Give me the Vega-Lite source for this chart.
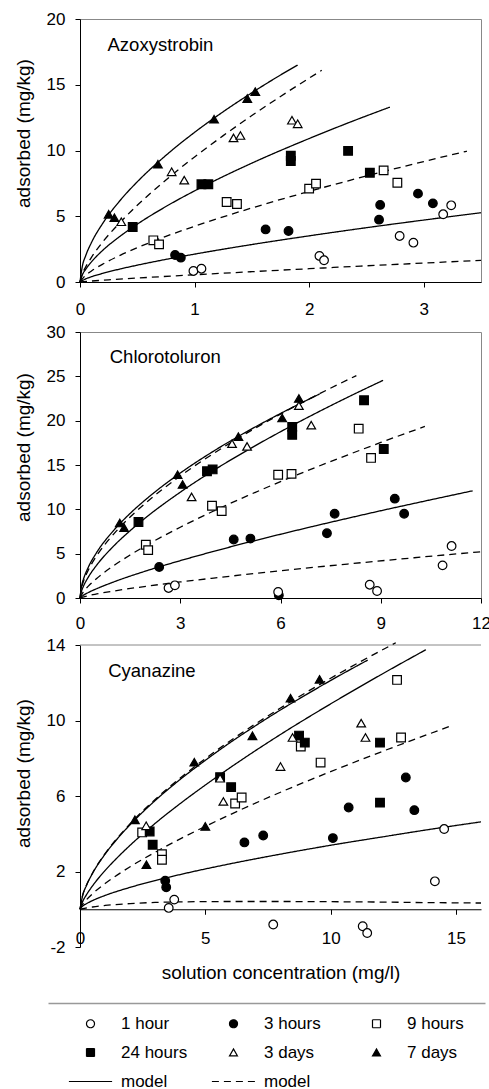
{
  "$schema": "https://vega.github.io/schema/vega-lite/v6.json",
  "background": "white",
  "padding": {"left": 13, "top": 9, "right": 5, "bottom": 0},
  "spacing": 4,
  "config": {
    "font": "Liberation Sans",
    "view": {"stroke": null},
    "axis": {"grid": false, "domainColor": "black", "tickColor": "black", "labelColor": "black", "titleColor": "black", "labelFont": "Liberation Sans", "titleFont": "Liberation Sans", "labelFontSize": 17, "titleFontSize": 19, "titleFontWeight": "normal", "tickSize": 5, "labelFlush": false, "labelOverlap": false}
  },
  "datasets": {
    "pts": [
      {"p":1,"series":"1 hour","x":0.99,"y":0.84},{"p":1,"series":"1 hour","x":1.06,"y":1.01},{"p":1,"series":"1 hour","x":2.09,"y":1.98},{"p":1,"series":"1 hour","x":2.13,"y":1.65},{"p":1,"series":"1 hour","x":2.79,"y":3.5},{"p":1,"series":"1 hour","x":2.91,"y":2.99},{"p":1,"series":"1 hour","x":3.17,"y":5.15},{"p":1,"series":"1 hour","x":3.24,"y":5.83},
      {"p":1,"series":"3 hours","x":0.83,"y":2.05},{"p":1,"series":"3 hours","x":0.88,"y":1.85},{"p":1,"series":"3 hours","x":1.62,"y":4.0},{"p":1,"series":"3 hours","x":1.82,"y":3.88},{"p":1,"series":"3 hours","x":2.62,"y":5.86},{"p":1,"series":"3 hours","x":2.61,"y":4.74},{"p":1,"series":"3 hours","x":2.95,"y":6.72},{"p":1,"series":"3 hours","x":3.08,"y":5.98},
      {"p":1,"series":"9 hours","x":0.64,"y":3.17},{"p":1,"series":"9 hours","x":0.69,"y":2.86},{"p":1,"series":"9 hours","x":1.28,"y":6.08},{"p":1,"series":"9 hours","x":1.37,"y":5.93},{"p":1,"series":"9 hours","x":2.0,"y":7.1},{"p":1,"series":"9 hours","x":2.06,"y":7.48},{"p":1,"series":"9 hours","x":2.65,"y":8.49},{"p":1,"series":"9 hours","x":2.77,"y":7.55},
      {"p":1,"series":"24 hours","x":0.46,"y":4.18},{"p":1,"series":"24 hours","x":1.06,"y":7.43},{"p":1,"series":"24 hours","x":1.12,"y":7.43},{"p":1,"series":"24 hours","x":1.84,"y":9.6},{"p":1,"series":"24 hours","x":1.84,"y":9.2},{"p":1,"series":"24 hours","x":2.34,"y":9.97},{"p":1,"series":"24 hours","x":2.53,"y":8.31},
      {"p":1,"series":"3 days","x":0.36,"y":4.58},{"p":1,"series":"3 days","x":0.8,"y":8.38},{"p":1,"series":"3 days","x":0.91,"y":7.75},{"p":1,"series":"3 days","x":1.34,"y":10.96},{"p":1,"series":"3 days","x":1.4,"y":11.14},{"p":1,"series":"3 days","x":1.85,"y":12.3},{"p":1,"series":"3 days","x":1.9,"y":12.03},
      {"p":1,"series":"7 days","x":0.25,"y":5.15},{"p":1,"series":"7 days","x":0.3,"y":4.89},{"p":1,"series":"7 days","x":0.68,"y":8.96},{"p":1,"series":"7 days","x":1.17,"y":12.38},{"p":1,"series":"7 days","x":1.46,"y":13.95},{"p":1,"series":"7 days","x":1.53,"y":14.48},

      {"p":2,"series":"1 hour","x":2.65,"y":1.13},{"p":2,"series":"1 hour","x":2.84,"y":1.43},{"p":2,"series":"3 hours","x":5.95,"y":0.3},{"p":2,"series":"1 hour","x":5.93,"y":0.68},{"p":2,"series":"1 hour","x":8.67,"y":1.5},{"p":2,"series":"1 hour","x":8.89,"y":0.79},{"p":2,"series":"1 hour","x":10.85,"y":3.68},{"p":2,"series":"1 hour","x":11.12,"y":5.86},
      {"p":2,"series":"3 hours","x":2.37,"y":3.5},{"p":2,"series":"3 hours","x":4.6,"y":6.6},{"p":2,"series":"3 hours","x":5.1,"y":6.7},{"p":2,"series":"3 hours","x":7.39,"y":7.3},{"p":2,"series":"3 hours","x":7.62,"y":9.5},{"p":2,"series":"3 hours","x":9.42,"y":11.2},{"p":2,"series":"3 hours","x":9.7,"y":9.5},
      {"p":2,"series":"9 hours","x":1.97,"y":6.0},{"p":2,"series":"9 hours","x":2.04,"y":5.4},{"p":2,"series":"9 hours","x":3.95,"y":10.4},{"p":2,"series":"9 hours","x":4.24,"y":9.8},{"p":2,"series":"9 hours","x":5.93,"y":13.9},{"p":2,"series":"9 hours","x":6.33,"y":14.0},{"p":2,"series":"9 hours","x":8.34,"y":19.1},{"p":2,"series":"9 hours","x":8.71,"y":15.8},
      {"p":2,"series":"24 hours","x":1.75,"y":8.57},{"p":2,"series":"24 hours","x":3.8,"y":14.3},{"p":2,"series":"24 hours","x":3.97,"y":14.5},{"p":2,"series":"24 hours","x":6.35,"y":19.3},{"p":2,"series":"24 hours","x":6.35,"y":18.4},{"p":2,"series":"24 hours","x":8.5,"y":22.3},{"p":2,"series":"24 hours","x":9.09,"y":16.8},
      {"p":2,"series":"3 days","x":3.34,"y":11.4},{"p":2,"series":"3 days","x":4.55,"y":17.4},{"p":2,"series":"3 days","x":5.0,"y":17.1},{"p":2,"series":"3 days","x":6.55,"y":21.7},{"p":2,"series":"3 days","x":6.92,"y":19.5},
      {"p":2,"series":"7 days","x":1.19,"y":8.46},{"p":2,"series":"7 days","x":1.32,"y":7.93},{"p":2,"series":"7 days","x":2.92,"y":13.9},{"p":2,"series":"7 days","x":3.07,"y":12.8},{"p":2,"series":"7 days","x":4.74,"y":18.2},{"p":2,"series":"7 days","x":6.05,"y":20.3},{"p":2,"series":"7 days","x":6.55,"y":22.5},

      {"p":3,"series":"1 hour","x":3.54,"y":0.07},{"p":3,"series":"1 hour","x":3.76,"y":0.51},{"p":3,"series":"1 hour","x":7.71,"y":-0.81},{"p":3,"series":"1 hour","x":11.28,"y":-0.9},{"p":3,"series":"1 hour","x":11.46,"y":-1.26},{"p":3,"series":"1 hour","x":14.16,"y":1.48},{"p":3,"series":"1 hour","x":14.53,"y":4.25},
      {"p":3,"series":"3 hours","x":3.4,"y":1.51},{"p":3,"series":"3 hours","x":3.44,"y":1.16},{"p":3,"series":"3 hours","x":6.56,"y":3.54},{"p":3,"series":"3 hours","x":7.31,"y":3.91},{"p":3,"series":"3 hours","x":10.09,"y":3.77},{"p":3,"series":"3 hours","x":10.72,"y":5.39},{"p":3,"series":"3 hours","x":13.0,"y":6.98},{"p":3,"series":"3 hours","x":13.34,"y":5.25},
      {"p":3,"series":"9 hours","x":2.48,"y":4.07},{"p":3,"series":"9 hours","x":3.27,"y":2.92},{"p":3,"series":"9 hours","x":3.27,"y":2.62},{"p":3,"series":"9 hours","x":6.19,"y":5.6},{"p":3,"series":"9 hours","x":6.45,"y":5.92},{"p":3,"series":"9 hours","x":8.81,"y":8.62},{"p":3,"series":"9 hours","x":9.6,"y":7.77},{"p":3,"series":"9 hours","x":12.65,"y":12.15},{"p":3,"series":"9 hours","x":12.81,"y":9.1},
      {"p":3,"series":"24 hours","x":2.78,"y":4.12},{"p":3,"series":"24 hours","x":2.9,"y":3.42},{"p":3,"series":"24 hours","x":5.59,"y":7.0},{"p":3,"series":"24 hours","x":6.03,"y":6.47},{"p":3,"series":"24 hours","x":8.74,"y":9.2},{"p":3,"series":"24 hours","x":8.97,"y":8.83},{"p":3,"series":"24 hours","x":11.97,"y":8.83},{"p":3,"series":"24 hours","x":11.97,"y":5.65},
      {"p":3,"series":"3 days","x":2.64,"y":4.42},{"p":3,"series":"3 days","x":5.59,"y":6.94},{"p":3,"series":"3 days","x":5.72,"y":5.71},{"p":3,"series":"3 days","x":8.0,"y":7.56},{"p":3,"series":"3 days","x":8.48,"y":9.1},{"p":3,"series":"3 days","x":11.22,"y":9.86},{"p":3,"series":"3 days","x":11.39,"y":9.1},
      {"p":3,"series":"7 days","x":2.19,"y":4.74},{"p":3,"series":"7 days","x":2.65,"y":2.36},{"p":3,"series":"7 days","x":4.56,"y":7.79},{"p":3,"series":"7 days","x":5.0,"y":4.39},{"p":3,"series":"7 days","x":6.88,"y":9.19},{"p":3,"series":"7 days","x":8.4,"y":11.18},{"p":3,"series":"7 days","x":9.56,"y":12.18}
    ],
    "curves": [
      {"p":1,"c":"7d","kind":"model solid","x":0,"y":0},{"p":1,"c":"7d","kind":"model solid","x":0.02,"y":1.18},{"p":1,"c":"7d","kind":"model solid","x":0.05,"y":2.01},{"p":1,"c":"7d","kind":"model solid","x":0.1,"y":3.0},{"p":1,"c":"7d","kind":"model solid","x":0.2,"y":4.48},{"p":1,"c":"7d","kind":"model solid","x":0.35,"y":6.2},{"p":1,"c":"7d","kind":"model solid","x":0.5,"y":7.62},{"p":1,"c":"7d","kind":"model solid","x":0.75,"y":9.63},{"p":1,"c":"7d","kind":"model solid","x":1.0,"y":11.38},{"p":1,"c":"7d","kind":"model solid","x":1.25,"y":12.95},{"p":1,"c":"7d","kind":"model solid","x":1.5,"y":14.39},{"p":1,"c":"7d","kind":"model solid","x":1.75,"y":15.74},{"p":1,"c":"7d","kind":"model solid","x":1.9,"y":16.5},
      {"p":1,"c":"3d","kind":"model dashed","x":0,"y":0},{"p":1,"c":"3d","kind":"model dashed","x":0.02,"y":0.6},{"p":1,"c":"3d","kind":"model dashed","x":0.05,"y":1.15},{"p":1,"c":"3d","kind":"model dashed","x":0.1,"y":1.87},{"p":1,"c":"3d","kind":"model dashed","x":0.2,"y":3.06},{"p":1,"c":"3d","kind":"model dashed","x":0.35,"y":4.53},{"p":1,"c":"3d","kind":"model dashed","x":0.5,"y":5.83},{"p":1,"c":"3d","kind":"model dashed","x":0.75,"y":7.76},{"p":1,"c":"3d","kind":"model dashed","x":1.0,"y":9.51},{"p":1,"c":"3d","kind":"model dashed","x":1.25,"y":11.13},{"p":1,"c":"3d","kind":"model dashed","x":1.5,"y":12.66},{"p":1,"c":"3d","kind":"model dashed","x":1.75,"y":14.11},{"p":1,"c":"3d","kind":"model dashed","x":2.11,"y":16.1},
      {"p":1,"c":"24h","kind":"model solid","x":0,"y":0},{"p":1,"c":"24h","kind":"model solid","x":0.02,"y":0.53},{"p":1,"c":"24h","kind":"model solid","x":0.05,"y":0.97},{"p":1,"c":"24h","kind":"model solid","x":0.1,"y":1.53},{"p":1,"c":"24h","kind":"model solid","x":0.2,"y":2.42},{"p":1,"c":"24h","kind":"model solid","x":0.35,"y":3.48},{"p":1,"c":"24h","kind":"model solid","x":0.5,"y":4.4},{"p":1,"c":"24h","kind":"model solid","x":0.75,"y":5.74},{"p":1,"c":"24h","kind":"model solid","x":1.0,"y":6.93},{"p":1,"c":"24h","kind":"model solid","x":1.25,"y":8.02},{"p":1,"c":"24h","kind":"model solid","x":1.5,"y":9.04},{"p":1,"c":"24h","kind":"model solid","x":2.0,"y":10.91},{"p":1,"c":"24h","kind":"model solid","x":2.4,"y":12.3},{"p":1,"c":"24h","kind":"model solid","x":2.705,"y":13.3},
      {"p":1,"c":"9h","kind":"model dashed","x":0,"y":0},{"p":1,"c":"9h","kind":"model dashed","x":0.05,"y":0.52},{"p":1,"c":"9h","kind":"model dashed","x":0.1,"y":0.84},{"p":1,"c":"9h","kind":"model dashed","x":0.2,"y":1.37},{"p":1,"c":"9h","kind":"model dashed","x":0.35,"y":2.03},{"p":1,"c":"9h","kind":"model dashed","x":0.5,"y":2.61},{"p":1,"c":"9h","kind":"model dashed","x":0.75,"y":3.47},{"p":1,"c":"9h","kind":"model dashed","x":1.0,"y":4.24},{"p":1,"c":"9h","kind":"model dashed","x":1.5,"y":5.63},{"p":1,"c":"9h","kind":"model dashed","x":2.0,"y":6.89},{"p":1,"c":"9h","kind":"model dashed","x":2.5,"y":8.06},{"p":1,"c":"9h","kind":"model dashed","x":3.0,"y":9.16},{"p":1,"c":"9h","kind":"model dashed","x":3.377,"y":9.95},
      {"p":1,"c":"3h","kind":"model solid","x":0,"y":0},{"p":1,"c":"3h","kind":"model solid","x":0.05,"y":0.24},{"p":1,"c":"3h","kind":"model solid","x":0.1,"y":0.4},{"p":1,"c":"3h","kind":"model solid","x":0.2,"y":0.66},{"p":1,"c":"3h","kind":"model solid","x":0.35,"y":0.99},{"p":1,"c":"3h","kind":"model solid","x":0.5,"y":1.28},{"p":1,"c":"3h","kind":"model solid","x":0.75,"y":1.72},{"p":1,"c":"3h","kind":"model solid","x":1.0,"y":2.12},{"p":1,"c":"3h","kind":"model solid","x":1.5,"y":2.85},{"p":1,"c":"3h","kind":"model solid","x":2.0,"y":3.51},{"p":1,"c":"3h","kind":"model solid","x":2.5,"y":4.13},{"p":1,"c":"3h","kind":"model solid","x":3.0,"y":4.71},{"p":1,"c":"3h","kind":"model solid","x":3.5,"y":5.27},
      {"p":1,"c":"1h","kind":"model dashed","x":0,"y":0},{"p":1,"c":"1h","kind":"model dashed","x":0.1,"y":0.073},{"p":1,"c":"1h","kind":"model dashed","x":0.25,"y":0.163},{"p":1,"c":"1h","kind":"model dashed","x":0.5,"y":0.3},{"p":1,"c":"1h","kind":"model dashed","x":1.0,"y":0.55},{"p":1,"c":"1h","kind":"model dashed","x":1.5,"y":0.785},{"p":1,"c":"1h","kind":"model dashed","x":2.0,"y":1.01},{"p":1,"c":"1h","kind":"model dashed","x":2.5,"y":1.23},{"p":1,"c":"1h","kind":"model dashed","x":3.0,"y":1.44},{"p":1,"c":"1h","kind":"model dashed","x":3.5,"y":1.65},

      {"p":2,"c":"7d","kind":"model solid","x":0,"y":0},{"p":2,"c":"7d","kind":"model solid","x":0.05,"y":1.4},{"p":2,"c":"7d","kind":"model solid","x":0.1,"y":2.08},{"p":2,"c":"7d","kind":"model solid","x":0.25,"y":3.48},{"p":2,"c":"7d","kind":"model solid","x":0.5,"y":5.14},{"p":2,"c":"7d","kind":"model solid","x":1.0,"y":7.59},{"p":2,"c":"7d","kind":"model solid","x":1.5,"y":9.54},{"p":2,"c":"7d","kind":"model solid","x":2.0,"y":11.21},{"p":2,"c":"7d","kind":"model solid","x":3.0,"y":14.09},{"p":2,"c":"7d","kind":"model solid","x":4.0,"y":16.57},{"p":2,"c":"7d","kind":"model solid","x":5.0,"y":18.78},{"p":2,"c":"7d","kind":"model solid","x":6.0,"y":20.81},{"p":2,"c":"7d","kind":"model solid","x":7.17,"y":23.01},
      {"p":2,"c":"3d","kind":"model dashed","x":0,"y":0},{"p":2,"c":"3d","kind":"model dashed","x":0.05,"y":1.22},{"p":2,"c":"3d","kind":"model dashed","x":0.1,"y":1.84},{"p":2,"c":"3d","kind":"model dashed","x":0.25,"y":3.16},{"p":2,"c":"3d","kind":"model dashed","x":0.5,"y":4.76},{"p":2,"c":"3d","kind":"model dashed","x":1.0,"y":7.18},{"p":2,"c":"3d","kind":"model dashed","x":1.5,"y":9.13},{"p":2,"c":"3d","kind":"model dashed","x":2.0,"y":10.82},{"p":2,"c":"3d","kind":"model dashed","x":3.0,"y":13.76},{"p":2,"c":"3d","kind":"model dashed","x":4.0,"y":16.31},{"p":2,"c":"3d","kind":"model dashed","x":5.0,"y":18.62},{"p":2,"c":"3d","kind":"model dashed","x":6.0,"y":20.74},{"p":2,"c":"3d","kind":"model dashed","x":7.0,"y":22.72},{"p":2,"c":"3d","kind":"model dashed","x":8.27,"y":25.08},
      {"p":2,"c":"24h","kind":"model solid","x":0,"y":0},{"p":2,"c":"24h","kind":"model solid","x":0.05,"y":0.83},{"p":2,"c":"24h","kind":"model solid","x":0.1,"y":1.3},{"p":2,"c":"24h","kind":"model solid","x":0.25,"y":2.36},{"p":2,"c":"24h","kind":"model solid","x":0.5,"y":3.71},{"p":2,"c":"24h","kind":"model solid","x":1.0,"y":5.83},{"p":2,"c":"24h","kind":"model solid","x":1.5,"y":7.59},{"p":2,"c":"24h","kind":"model solid","x":2.0,"y":9.16},{"p":2,"c":"24h","kind":"model solid","x":3.0,"y":11.93},{"p":2,"c":"24h","kind":"model solid","x":4.0,"y":14.4},{"p":2,"c":"24h","kind":"model solid","x":5.0,"y":16.65},{"p":2,"c":"24h","kind":"model solid","x":6.0,"y":18.75},{"p":2,"c":"24h","kind":"model solid","x":7.0,"y":20.73},{"p":2,"c":"24h","kind":"model solid","x":8.0,"y":22.62},{"p":2,"c":"24h","kind":"model solid","x":9.07,"y":24.55},
      {"p":2,"c":"9h","kind":"model dashed","x":0,"y":0},{"p":2,"c":"9h","kind":"model dashed","x":0.1,"y":0.7},{"p":2,"c":"9h","kind":"model dashed","x":0.25,"y":1.34},{"p":2,"c":"9h","kind":"model dashed","x":0.5,"y":2.21},{"p":2,"c":"9h","kind":"model dashed","x":1.0,"y":3.63},{"p":2,"c":"9h","kind":"model dashed","x":1.5,"y":4.85},{"p":2,"c":"9h","kind":"model dashed","x":2.0,"y":5.97},{"p":2,"c":"9h","kind":"model dashed","x":3.0,"y":7.98},{"p":2,"c":"9h","kind":"model dashed","x":4.0,"y":9.81},{"p":2,"c":"9h","kind":"model dashed","x":5.0,"y":11.51},{"p":2,"c":"9h","kind":"model dashed","x":6.0,"y":13.12},{"p":2,"c":"9h","kind":"model dashed","x":7.0,"y":14.65},{"p":2,"c":"9h","kind":"model dashed","x":8.0,"y":16.12},{"p":2,"c":"9h","kind":"model dashed","x":9.0,"y":17.54},{"p":2,"c":"9h","kind":"model dashed","x":10.32,"y":19.35},
      {"p":2,"c":"3h","kind":"model solid","x":0,"y":0},{"p":2,"c":"3h","kind":"model solid","x":0.1,"y":0.3},{"p":2,"c":"3h","kind":"model solid","x":0.25,"y":0.62},{"p":2,"c":"3h","kind":"model solid","x":0.5,"y":1.05},{"p":2,"c":"3h","kind":"model solid","x":1.0,"y":1.8},{"p":2,"c":"3h","kind":"model solid","x":2.0,"y":3.08},{"p":2,"c":"3h","kind":"model solid","x":3.0,"y":4.21},{"p":2,"c":"3h","kind":"model solid","x":4.0,"y":5.26},{"p":2,"c":"3h","kind":"model solid","x":5.0,"y":6.25},{"p":2,"c":"3h","kind":"model solid","x":6.0,"y":7.19},{"p":2,"c":"3h","kind":"model solid","x":7.0,"y":8.1},{"p":2,"c":"3h","kind":"model solid","x":8.0,"y":8.98},{"p":2,"c":"3h","kind":"model solid","x":9.0,"y":9.84},{"p":2,"c":"3h","kind":"model solid","x":10.0,"y":10.67},{"p":2,"c":"3h","kind":"model solid","x":11.75,"y":12.09},
      {"p":2,"c":"1h","kind":"model dashed","x":0,"y":0},{"p":2,"c":"1h","kind":"model dashed","x":0.25,"y":0.27},{"p":2,"c":"1h","kind":"model dashed","x":0.5,"y":0.46},{"p":2,"c":"1h","kind":"model dashed","x":1.0,"y":0.78},{"p":2,"c":"1h","kind":"model dashed","x":2.0,"y":1.33},{"p":2,"c":"1h","kind":"model dashed","x":3.0,"y":1.81},{"p":2,"c":"1h","kind":"model dashed","x":4.0,"y":2.25},{"p":2,"c":"1h","kind":"model dashed","x":6.0,"y":3.07},{"p":2,"c":"1h","kind":"model dashed","x":8.0,"y":3.83},{"p":2,"c":"1h","kind":"model dashed","x":10.0,"y":4.54},{"p":2,"c":"1h","kind":"model dashed","x":12.0,"y":5.22},

      {"p":3,"c":"7d","kind":"model solid","x":0,"y":0},{"p":3,"c":"7d","kind":"model solid","x":0.1,"y":0.7},{"p":3,"c":"7d","kind":"model solid","x":0.25,"y":1.24},{"p":3,"c":"7d","kind":"model solid","x":0.5,"y":1.9},{"p":3,"c":"7d","kind":"model solid","x":1.0,"y":2.92},{"p":3,"c":"7d","kind":"model solid","x":1.5,"y":3.75},{"p":3,"c":"7d","kind":"model solid","x":2.0,"y":4.48},{"p":3,"c":"7d","kind":"model solid","x":3.0,"y":5.76},{"p":3,"c":"7d","kind":"model solid","x":4.0,"y":6.88},{"p":3,"c":"7d","kind":"model solid","x":5.0,"y":7.89},{"p":3,"c":"7d","kind":"model solid","x":6.0,"y":8.84},{"p":3,"c":"7d","kind":"model solid","x":7.0,"y":9.72},{"p":3,"c":"7d","kind":"model solid","x":8.0,"y":10.56},{"p":3,"c":"7d","kind":"model solid","x":9.0,"y":11.35},{"p":3,"c":"7d","kind":"model solid","x":10.0,"y":12.12},{"p":3,"c":"7d","kind":"model solid","x":11.48,"y":13.2},
      {"p":3,"c":"3d","kind":"model dashed","x":0,"y":0},{"p":3,"c":"3d","kind":"model dashed","x":0.1,"y":0.71},{"p":3,"c":"3d","kind":"model dashed","x":0.25,"y":1.25},{"p":3,"c":"3d","kind":"model dashed","x":0.5,"y":1.92},{"p":3,"c":"3d","kind":"model dashed","x":1.0,"y":2.95},{"p":3,"c":"3d","kind":"model dashed","x":1.5,"y":3.79},{"p":3,"c":"3d","kind":"model dashed","x":2.0,"y":4.53},{"p":3,"c":"3d","kind":"model dashed","x":3.0,"y":5.82},{"p":3,"c":"3d","kind":"model dashed","x":4.0,"y":6.95},{"p":3,"c":"3d","kind":"model dashed","x":5.0,"y":7.98},{"p":3,"c":"3d","kind":"model dashed","x":6.0,"y":8.93},{"p":3,"c":"3d","kind":"model dashed","x":7.0,"y":9.82},{"p":3,"c":"3d","kind":"model dashed","x":8.0,"y":10.66},{"p":3,"c":"3d","kind":"model dashed","x":9.0,"y":11.47},{"p":3,"c":"3d","kind":"model dashed","x":10.0,"y":12.24},{"p":3,"c":"3d","kind":"model dashed","x":11.0,"y":12.98},{"p":3,"c":"3d","kind":"model dashed","x":12.6,"y":14.12},
      {"p":3,"c":"24h","kind":"model solid","x":0,"y":0},{"p":3,"c":"24h","kind":"model solid","x":0.1,"y":0.39},{"p":3,"c":"24h","kind":"model solid","x":0.25,"y":0.75},{"p":3,"c":"24h","kind":"model solid","x":0.5,"y":1.24},{"p":3,"c":"24h","kind":"model solid","x":1.0,"y":2.05},{"p":3,"c":"24h","kind":"model solid","x":1.5,"y":2.75},{"p":3,"c":"24h","kind":"model solid","x":2.0,"y":3.39},{"p":3,"c":"24h","kind":"model solid","x":3.0,"y":4.55},{"p":3,"c":"24h","kind":"model solid","x":4.0,"y":5.6},{"p":3,"c":"24h","kind":"model solid","x":5.0,"y":6.58},{"p":3,"c":"24h","kind":"model solid","x":6.0,"y":7.51},{"p":3,"c":"24h","kind":"model solid","x":8.0,"y":9.26},{"p":3,"c":"24h","kind":"model solid","x":10.0,"y":10.88},{"p":3,"c":"24h","kind":"model solid","x":12.0,"y":12.42},{"p":3,"c":"24h","kind":"model solid","x":13.8,"y":13.75},
      {"p":3,"c":"9h","kind":"model dashed","x":0,"y":0},{"p":3,"c":"9h","kind":"model dashed","x":0.1,"y":0.25},{"p":3,"c":"9h","kind":"model dashed","x":0.25,"y":0.49},{"p":3,"c":"9h","kind":"model dashed","x":0.5,"y":0.82},{"p":3,"c":"9h","kind":"model dashed","x":1.0,"y":1.36},{"p":3,"c":"9h","kind":"model dashed","x":2.0,"y":2.25},{"p":3,"c":"9h","kind":"model dashed","x":3.0,"y":3.02},{"p":3,"c":"9h","kind":"model dashed","x":4.0,"y":3.73},{"p":3,"c":"9h","kind":"model dashed","x":5.0,"y":4.39},{"p":3,"c":"9h","kind":"model dashed","x":6.0,"y":5.02},{"p":3,"c":"9h","kind":"model dashed","x":8.0,"y":6.2},{"p":3,"c":"9h","kind":"model dashed","x":10.0,"y":7.29},{"p":3,"c":"9h","kind":"model dashed","x":12.0,"y":8.33},{"p":3,"c":"9h","kind":"model dashed","x":14.86,"y":9.74},
      {"p":3,"c":"3h","kind":"model solid","x":0,"y":0},{"p":3,"c":"3h","kind":"model solid","x":0.1,"y":0.16},{"p":3,"c":"3h","kind":"model solid","x":0.25,"y":0.29},{"p":3,"c":"3h","kind":"model solid","x":0.5,"y":0.46},{"p":3,"c":"3h","kind":"model solid","x":1.0,"y":0.73},{"p":3,"c":"3h","kind":"model solid","x":2.0,"y":1.16},{"p":3,"c":"3h","kind":"model solid","x":3.0,"y":1.52},{"p":3,"c":"3h","kind":"model solid","x":4.0,"y":1.84},{"p":3,"c":"3h","kind":"model solid","x":6.0,"y":2.41},{"p":3,"c":"3h","kind":"model solid","x":8.0,"y":2.92},{"p":3,"c":"3h","kind":"model solid","x":10.0,"y":3.39},{"p":3,"c":"3h","kind":"model solid","x":12.0,"y":3.82},{"p":3,"c":"3h","kind":"model solid","x":14.0,"y":4.24},{"p":3,"c":"3h","kind":"model solid","x":16.0,"y":4.63},
      {"p":3,"c":"1h","kind":"model dashed","x":0,"y":0},{"p":3,"c":"1h","kind":"model dashed","x":0.5,"y":0.12},{"p":3,"c":"1h","kind":"model dashed","x":1.0,"y":0.2},{"p":3,"c":"1h","kind":"model dashed","x":2.0,"y":0.3},{"p":3,"c":"1h","kind":"model dashed","x":3.0,"y":0.36},{"p":3,"c":"1h","kind":"model dashed","x":4.0,"y":0.39},{"p":3,"c":"1h","kind":"model dashed","x":6.0,"y":0.41},{"p":3,"c":"1h","kind":"model dashed","x":8.0,"y":0.41},{"p":3,"c":"1h","kind":"model dashed","x":10.0,"y":0.4},{"p":3,"c":"1h","kind":"model dashed","x":12.0,"y":0.38},{"p":3,"c":"1h","kind":"model dashed","x":14.0,"y":0.35},{"p":3,"c":"1h","kind":"model dashed","x":16.0,"y":0.33}
    ]
  },
  "vconcat": [
    {
      "width": 401, "height": 263,
      "view": {"stroke": "#888"},
      "layer": [
        {
          "data": {"name": "curves"},
          "transform": [{"filter": "datum.p === 1"}],
          "mark": {"type": "line", "color": "black", "strokeWidth": 1.3, "interpolate": "monotone", "clip": false},
          "encoding": {
            "x": {"field": "x", "type": "quantitative", "scale": {"domain": [0, 3.5], "nice": false}, "axis": {"title": null, "values": [0, 1, 2, 3], "format": "d", "labelPadding": 14}},
            "y": {"field": "y", "type": "quantitative", "scale": {"domain": [0, 20], "nice": false}, "axis": {"title": "adsorbed (mg/kg)", "values": [0, 5, 10, 15, 20], "labelPadding": 10, "titlePadding": 13, "titleY": 114}},
            "detail": {"field": "c", "type": "nominal"},
            "strokeDash": {"field": "kind", "type": "nominal",
              "scale": {"domain": ["1 hour", "3 hours", "9 hours", "24 hours", "3 days", "7 days", "model solid", "model dashed"], "range": [[1, 0], [1, 0], [1, 0], [1, 0], [1, 0], [1, 0], [1, 0], [7, 5]]},
              "legend": {"orient": "none", "legendX": 2, "legendY": 996, "direction": "horizontal", "columns": 3, "title": null, "symbolSize": 64, "symbolOffset": 0, "symbolStrokeColor": "black", "symbolStrokeWidth": 1.2, "symbolOpacity": 1, "labelFont": "Liberation Sans", "labelFontSize": 17, "labelColor": "black", "labelOffset": 22, "columnPadding": 21, "rowPadding": 11, "gridAlign": "all", "labelExpr": "indexof(datum.label, 'model') === 0 ? 'model' : datum.label"}}
          }
        },
        {
          "data": {"name": "pts"},
          "transform": [{"filter": "datum.p === 1"}],
          "mark": {"type": "point", "filled": true, "stroke": "black", "strokeWidth": 1.2, "opacity": 1, "size": 75},
          "encoding": {
            "x": {"field": "x", "type": "quantitative"},
            "y": {"field": "y", "type": "quantitative"},
            "shape": {"field": "series", "type": "nominal",
              "scale": {"domain": ["1 hour", "3 hours", "9 hours", "24 hours", "3 days", "7 days", "model solid", "model dashed"], "range": ["circle", "circle", "square", "square", "triangle-up", "triangle-up", "M -5.4 0 L 5.4 0", "M -5.4 0 L 5.4 0"]},
              "legend": {"orient": "none", "legendX": 2, "legendY": 996, "direction": "horizontal", "columns": 3, "title": null, "symbolSize": 64, "symbolOffset": 0, "symbolStrokeColor": "black", "symbolStrokeWidth": 1.2, "symbolOpacity": 1, "labelFont": "Liberation Sans", "labelFontSize": 17, "labelColor": "black", "labelOffset": 22, "columnPadding": 21, "rowPadding": 11, "gridAlign": "all", "labelExpr": "indexof(datum.label, 'model') === 0 ? 'model' : datum.label"}},
            "fill": {"field": "series", "type": "nominal",
              "scale": {"domain": ["1 hour", "3 hours", "9 hours", "24 hours", "3 days", "7 days", "model solid", "model dashed"], "range": ["white", "black", "white", "black", "white", "black", "white", "white"]},
              "legend": {"orient": "none", "legendX": 2, "legendY": 996, "direction": "horizontal", "columns": 3, "title": null, "symbolSize": 64, "symbolOffset": 0, "symbolStrokeColor": "black", "symbolStrokeWidth": 1.2, "symbolOpacity": 1, "labelFont": "Liberation Sans", "labelFontSize": 17, "labelColor": "black", "labelOffset": 22, "columnPadding": 21, "rowPadding": 11, "gridAlign": "all", "labelExpr": "indexof(datum.label, 'model') === 0 ? 'model' : datum.label"}},
            "stroke": {"field": "series", "type": "nominal",
              "scale": {"domain": ["1 hour", "3 hours", "9 hours", "24 hours", "3 days", "7 days", "model solid", "model dashed"], "range": ["black", "black", "black", "black", "black", "black", "black", "black"]},
              "legend": {"orient": "none", "legendX": 2, "legendY": 996, "direction": "horizontal", "columns": 3, "title": null, "symbolSize": 64, "symbolOffset": 0, "symbolStrokeColor": "black", "symbolStrokeWidth": 1.2, "symbolOpacity": 1, "labelFont": "Liberation Sans", "labelFontSize": 17, "labelColor": "black", "labelOffset": 22, "columnPadding": 21, "rowPadding": 11, "gridAlign": "all", "labelExpr": "indexof(datum.label, 'model') === 0 ? 'model' : datum.label"}}
          }
        },
        {
          "data": {"values": [{"t": "Azoxystrobin"}]},
          "mark": {"type": "text", "align": "left", "baseline": "middle", "fontSize": 18.5, "font": "Liberation Sans", "color": "black"},
          "encoding": {"x": {"datum": 0.24, "type": "quantitative"}, "y": {"datum": 18, "type": "quantitative"}, "text": {"field": "t", "type": "nominal"}}
        }
      ]
    },
    {
      "width": 401, "height": 266,
      "view": {"stroke": "#888"},
      "layer": [
        {
          "data": {"name": "curves"},
          "transform": [{"filter": "datum.p === 2"}],
          "mark": {"type": "line", "color": "black", "strokeWidth": 1.3, "interpolate": "monotone", "clip": false},
          "encoding": {
            "x": {"field": "x", "type": "quantitative", "scale": {"domain": [0, 12], "nice": false}, "axis": {"title": null, "values": [0, 3, 6, 9, 12], "labelPadding": 12}},
            "y": {"field": "y", "type": "quantitative", "scale": {"domain": [0, 30], "nice": false}, "axis": {"title": "adsorbed (mg/kg)", "values": [0, 5, 10, 15, 20, 25, 30], "labelPadding": 10, "titlePadding": 13, "titleY": 115}},
            "detail": {"field": "c", "type": "nominal"},
            "strokeDash": {"field": "kind", "type": "nominal", "legend": null}
          }
        },
        {
          "data": {"name": "pts"},
          "transform": [{"filter": "datum.p === 2"}],
          "mark": {"type": "point", "filled": true, "stroke": "black", "strokeWidth": 1.2, "opacity": 1, "size": 75},
          "encoding": {
            "x": {"field": "x", "type": "quantitative"},
            "y": {"field": "y", "type": "quantitative"},
            "shape": {"field": "series", "type": "nominal", "legend": null},
            "fill": {"field": "series", "type": "nominal", "legend": null},
            "stroke": {"field": "series", "type": "nominal", "legend": null}
          }
        },
        {
          "data": {"values": [{"t": "Chlorotoluron"}]},
          "mark": {"type": "text", "align": "left", "baseline": "middle", "fontSize": 18.5, "font": "Liberation Sans", "color": "black"},
          "encoding": {"x": {"datum": 0.89, "type": "quantitative"}, "y": {"datum": 27.2, "type": "quantitative"}, "text": {"field": "t", "type": "nominal"}}
        }
      ]
    },
    {
      "width": 401, "height": 302,
      "layer": [
        {
          "data": {"values": [{"t": "top"}]},
          "mark": {"type": "rule", "color": "#888", "strokeWidth": 1},
          "encoding": {"y": {"datum": 14, "type": "quantitative"}}
        },
        {
          "data": {"name": "curves"},
          "transform": [{"filter": "datum.p === 3"}],
          "mark": {"type": "line", "color": "black", "strokeWidth": 1.3, "interpolate": "monotone", "clip": false},
          "encoding": {
            "x": {"field": "x", "type": "quantitative", "scale": {"domain": [0, 16], "nice": false}, "axis": {"title": "solution concentration (mg/l)", "values": [0, 5, 10, 15], "offset": -37.75, "labelPadding": 16, "titlePadding": 17}},
            "y": {"field": "y", "type": "quantitative", "scale": {"domain": [-2, 14], "nice": false, "zero": false}, "axis": {"title": "adsorbed (mg/kg)", "values": [-2, 2, 6, 10, 14], "labelExpr": "'' + datum.value", "labelPadding": 10, "titlePadding": 13, "titleY": 128}},
            "detail": {"field": "c", "type": "nominal"},
            "strokeDash": {"field": "kind", "type": "nominal", "legend": null}
          }
        },
        {
          "data": {"name": "pts"},
          "transform": [{"filter": "datum.p === 3"}],
          "mark": {"type": "point", "filled": true, "stroke": "black", "strokeWidth": 1.2, "opacity": 1, "size": 75},
          "encoding": {
            "x": {"field": "x", "type": "quantitative"},
            "y": {"field": "y", "type": "quantitative"},
            "shape": {"field": "series", "type": "nominal", "legend": null},
            "fill": {"field": "series", "type": "nominal", "legend": null},
            "stroke": {"field": "series", "type": "nominal", "legend": null}
          }
        },
        {
          "data": {"values": [{"t": "Cyanazine"}]},
          "mark": {"type": "text", "align": "left", "baseline": "middle", "fontSize": 18.5, "font": "Liberation Sans", "color": "black"},
          "encoding": {"x": {"datum": 1.125, "type": "quantitative"}, "y": {"datum": 12.6, "type": "quantitative"}, "text": {"field": "t", "type": "nominal"}}
        }
      ]
    },
    {
      "width": 401, "height": 16,
      "data": {"values": [{"v": 0}]},
      "mark": {"type": "rule", "strokeOpacity": 0},
      "encoding": {
        "x": {"field": "v", "type": "quantitative", "scale": {"domain": [0, 1], "range": [-32, 405]}, "axis": {"orient": "bottom", "labels": false, "ticks": false, "grid": false, "title": null, "domainColor": "#999", "domainWidth": 1.5}}
      }
    }
  ]
}
